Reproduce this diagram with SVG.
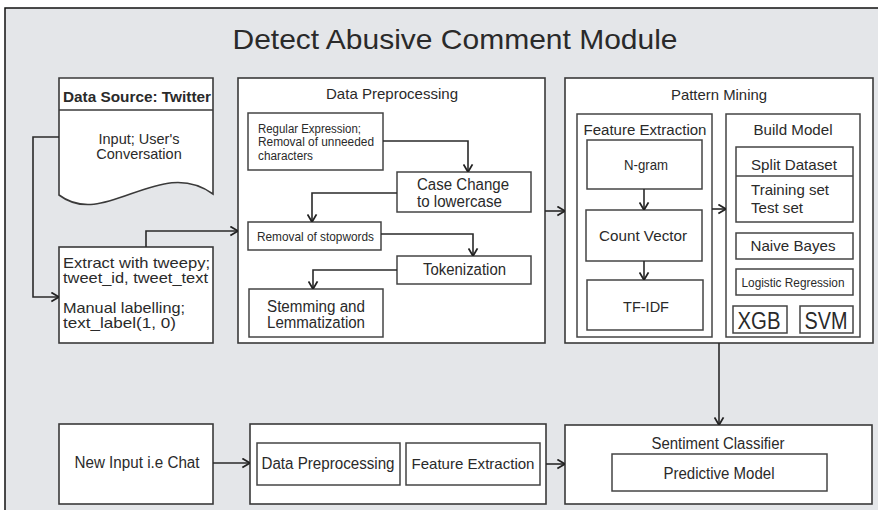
<svg xmlns="http://www.w3.org/2000/svg" width="878" height="510" viewBox="0 0 878 510">
<style>
.bx{fill:#fff;stroke:#3a3a3a;stroke-width:1.6}
.ib{fill:#fff;stroke:#444;stroke-width:1.5}
.t{font-family:"Liberation Sans",Arial,sans-serif;fill:#2a2a2a}
.c{text-anchor:middle}
.cn{fill:none;stroke:#2a2a2a;stroke-width:1.6;marker-end:url(#ah)}
</style>
<defs>
<marker id="ah" markerUnits="userSpaceOnUse" viewBox="0 0 10 12" refX="9.5" refY="6" markerWidth="9" markerHeight="11" orient="auto">
<path d="M1,1 L9.5,6 L1,11" fill="none" stroke="#222" stroke-width="2"/>
</marker>
</defs>
<rect x="0" y="0" width="878" height="510" fill="#fff"/>
<rect x="5" y="8" width="900" height="520" fill="#e4e6e9" stroke="#111" stroke-width="1.5"/>
<text class="t c" x="455" y="49" style="font-size:28px" textLength="445" lengthAdjust="spacingAndGlyphs">Detect Abusive Comment Module</text>

<g id="data-source">
<path class="bx" d="M59,78 H213 V194 C160,155 105,230 59,195 Z"/>
<line x1="59" y1="110" x2="213" y2="110" stroke="#3a3a3a" stroke-width="1.5"/>
<text class="t" x="63" y="102" style="font-size:14px;font-weight:bold" textLength="148" lengthAdjust="spacingAndGlyphs">Data Source: Twitter</text>
<text class="t c" x="139" y="144" style="font-size:14.5px">Input; User's</text>
<text class="t c" x="139" y="159" style="font-size:14.5px">Conversation</text>
</g>

<g id="extract">
<rect class="bx" x="59" y="247" width="154" height="96"/>
<text class="t" x="63" y="268" style="font-size:14.5px" textLength="147" lengthAdjust="spacingAndGlyphs">Extract with tweepy;</text>
<text class="t" x="63" y="283" style="font-size:14.5px" textLength="145" lengthAdjust="spacingAndGlyphs">tweet_id, tweet_text</text>
<text class="t" x="63" y="313" style="font-size:14.5px" textLength="122" lengthAdjust="spacingAndGlyphs">Manual labelling;</text>
<text class="t" x="63" y="328" style="font-size:14.5px" textLength="113" lengthAdjust="spacingAndGlyphs">text_label(1, 0)</text>
</g>

<g id="data-preprocessing">
<rect class="bx" x="238" y="78" width="307" height="265"/>
<text class="t c" x="392" y="99" style="font-size:15px" textLength="132" lengthAdjust="spacingAndGlyphs">Data Preprocessing</text>
</g>
<g id="regex">
<rect class="ib" x="248" y="113" width="135" height="57"/>
<text class="t" x="258" y="133" style="font-size:12px" textLength="103" lengthAdjust="spacingAndGlyphs">Regular Expression;</text>
<text class="t" x="258" y="146" style="font-size:12px" textLength="116" lengthAdjust="spacingAndGlyphs">Removal of unneeded</text>
<text class="t" x="258" y="160" style="font-size:12px" textLength="55" lengthAdjust="spacingAndGlyphs">characters</text>
</g>
<g id="case-change">
<rect class="ib" x="397" y="172" width="134" height="40"/>
<text class="t" x="417" y="190" style="font-size:16px" textLength="92" lengthAdjust="spacingAndGlyphs">Case Change</text>
<text class="t" x="417" y="207" style="font-size:16px" textLength="85" lengthAdjust="spacingAndGlyphs">to lowercase</text>
</g>
<g id="stopwords">
<rect class="ib" x="248" y="222" width="133" height="28"/>
<text class="t" x="257" y="241" style="font-size:13.5px" textLength="117" lengthAdjust="spacingAndGlyphs">Removal of stopwords</text>
</g>
<g id="tokenization">
<rect class="ib" x="397" y="256" width="134" height="28"/>
<text class="t" x="423" y="275" style="font-size:16px" textLength="83" lengthAdjust="spacingAndGlyphs">Tokenization</text>
</g>
<g id="stemming">
<rect class="ib" x="249" y="289" width="134" height="48"/>
<text class="t c" x="316" y="312" style="font-size:16px" textLength="98" lengthAdjust="spacingAndGlyphs">Stemming and</text>
<text class="t c" x="316" y="328" style="font-size:16px" textLength="98" lengthAdjust="spacingAndGlyphs">Lemmatization</text>
</g>

<g id="pattern-mining">
<rect class="bx" x="565" y="78" width="308" height="265"/>
<text class="t c" x="719" y="100" style="font-size:15px" textLength="96" lengthAdjust="spacingAndGlyphs">Pattern Mining</text>
</g>
<g id="feature-extraction">
<rect class="ib" x="577" y="114" width="135" height="223"/>
<text class="t c" x="645" y="135" style="font-size:15.5px" textLength="123" lengthAdjust="spacingAndGlyphs">Feature Extraction</text>
</g>
<g id="ngram">
<rect class="ib" x="587" y="140" width="115" height="49"/>
<text class="t c" x="646" y="170" style="font-size:15px" textLength="44" lengthAdjust="spacingAndGlyphs">N-gram</text>
</g>
<g id="count-vector">
<rect class="ib" x="586" y="210" width="116" height="51"/>
<text class="t c" x="643" y="241" style="font-size:15px" textLength="88" lengthAdjust="spacingAndGlyphs">Count Vector</text>
</g>
<g id="tfidf">
<rect class="ib" x="587" y="280" width="116" height="50"/>
<text class="t c" x="646" y="312" style="font-size:15px" textLength="46" lengthAdjust="spacingAndGlyphs">TF-IDF</text>
</g>
<g id="build-model">
<rect class="ib" x="726" y="114" width="134" height="223"/>
<text class="t c" x="793" y="135" style="font-size:15.5px" textLength="79" lengthAdjust="spacingAndGlyphs">Build Model</text>
</g>
<g id="split-dataset">
<rect class="ib" x="736" y="147" width="117" height="75"/>
<line x1="736" y1="176" x2="853" y2="176" stroke="#444" stroke-width="1.5"/>
<text class="t c" x="794" y="170" style="font-size:15px" textLength="86" lengthAdjust="spacingAndGlyphs">Split Dataset</text>
<text class="t" x="751" y="195" style="font-size:15px" textLength="78" lengthAdjust="spacingAndGlyphs">Training set</text>
<text class="t" x="751" y="213" style="font-size:15px" textLength="52" lengthAdjust="spacingAndGlyphs">Test set</text>
</g>
<g id="naive-bayes">
<rect class="ib" x="736" y="233" width="117" height="26"/>
<text class="t c" x="793" y="251" style="font-size:15px" textLength="85" lengthAdjust="spacingAndGlyphs">Naive Bayes</text>
</g>
<g id="logistic-regression">
<rect class="ib" x="736" y="269" width="117" height="26"/>
<text class="t c" x="793" y="287" style="font-size:13px" textLength="103" lengthAdjust="spacingAndGlyphs">Logistic Regression</text>
</g>
<g id="xgb">
<rect class="ib" x="733" y="306" width="54" height="27"/>
<text class="t c" x="759" y="329" style="font-size:23px" textLength="43" lengthAdjust="spacingAndGlyphs">XGB</text>
</g>
<g id="svm">
<rect class="ib" x="800" y="306" width="53" height="27"/>
<text class="t c" x="826" y="329" style="font-size:23px" textLength="43" lengthAdjust="spacingAndGlyphs">SVM</text>
</g>

<g id="new-input">
<rect class="bx" x="59" y="424" width="154" height="80"/>
<text class="t c" x="137" y="468" style="font-size:16px" textLength="125" lengthAdjust="spacingAndGlyphs">New Input i.e Chat</text>
</g>
<g id="prediction-pipeline">
<rect class="bx" x="250" y="424" width="296" height="80"/>
</g>
<g id="dp-lower">
<rect class="ib" x="257" y="443" width="143" height="42"/>
<text class="t c" x="328" y="469" style="font-size:16px" textLength="133" lengthAdjust="spacingAndGlyphs">Data Preprocessing</text>
</g>
<g id="fe-lower">
<rect class="ib" x="406" y="443" width="134" height="42"/>
<text class="t c" x="473" y="469" style="font-size:15px" textLength="123" lengthAdjust="spacingAndGlyphs">Feature Extraction</text>
</g>
<g id="sentiment-classifier">
<rect class="bx" x="565" y="425" width="307" height="79"/>
<text class="t c" x="718" y="449" style="font-size:16px" textLength="133" lengthAdjust="spacingAndGlyphs">Sentiment Classifier</text>
</g>
<g id="predictive-model">
<rect class="ib" x="612" y="454" width="215" height="37"/>
<text class="t c" x="719" y="479" style="font-size:16px" textLength="111" lengthAdjust="spacingAndGlyphs">Predictive Model</text>
</g>

<g id="connectors">
<path class="cn" d="M59,137 H33 V297 H59"/>
<path class="cn" d="M146,247 V231 H238"/>
<path class="cn" d="M383,141 H468 V172"/>
<path class="cn" d="M397,193 H312 V222"/>
<path class="cn" d="M381,234 H473 V256"/>
<path class="cn" d="M397,270 H313 V289"/>
<path class="cn" d="M545,211 H565"/>
<path class="cn" d="M644,189 V210"/>
<path class="cn" d="M644,261 V280"/>
<path class="cn" d="M712,209 H726"/>
<path class="cn" d="M719,343 V425"/>
<path class="cn" d="M213,463 H250"/>
<path class="cn" d="M546,464 H565"/>
</g>
</svg>
